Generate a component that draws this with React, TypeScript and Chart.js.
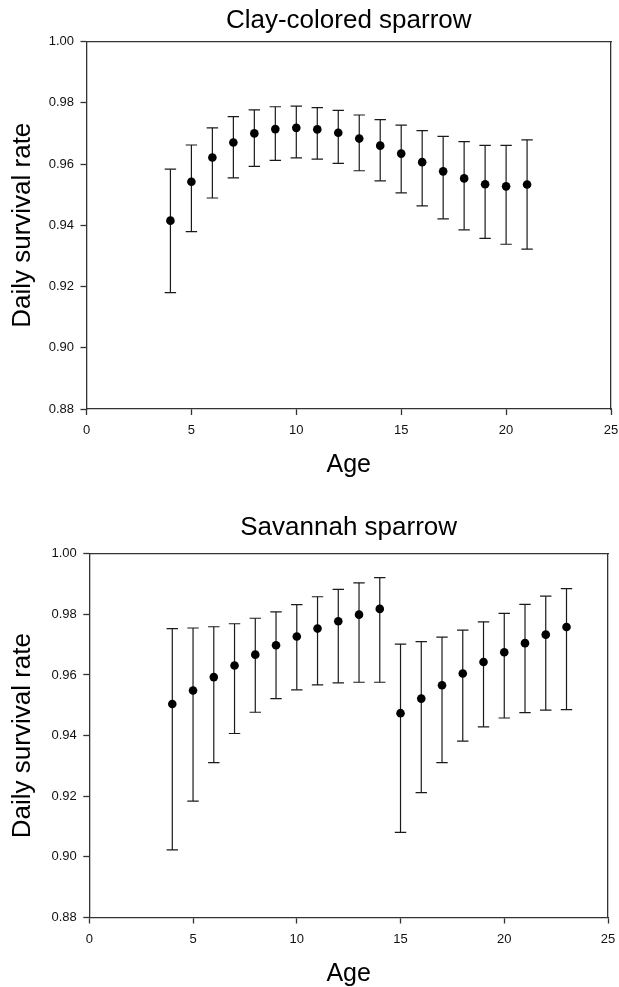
import React, { useEffect, useRef } from "react";
import { Chart, registerables } from "chart.js";

Chart.register(...registerables);

// ---- Clay-colored sparrow ----
const claySpecies = "Clay-colored sparrow";
const clayAges = [4, 5, 6, 7, 8, 9, 10, 11, 12, 13, 14, 15, 16, 17, 18, 19, 20, 21];
const clayMean = [0.9415, 0.9542, 0.9621, 0.967, 0.97, 0.9714, 0.9718, 0.9713, 0.9702, 0.9683, 0.966, 0.9634, 0.9606, 0.9576, 0.9553, 0.9534, 0.9527, 0.9533];
const clayUpper = [0.9583, 0.9662, 0.9718, 0.9755, 0.9777, 0.9787, 0.9789, 0.9784, 0.9775, 0.976, 0.9745, 0.9727, 0.9709, 0.969, 0.9673, 0.9661, 0.9661, 0.9679];
const clayLower = [0.918, 0.9379, 0.9489, 0.9555, 0.9592, 0.9612, 0.962, 0.9616, 0.9602, 0.9578, 0.9545, 0.9506, 0.9463, 0.9421, 0.9385, 0.9357, 0.9338, 0.9322];

// ---- Savannah sparrow ----
const savSpecies = "Savannah sparrow";
const savAges = [4, 5, 6, 7, 8, 9, 10, 11, 12, 13, 14, 15, 16, 17, 18, 19, 20, 21, 22, 23];
const savMean = [0.9504, 0.9549, 0.9593, 0.9631, 0.9667, 0.9698, 0.9727, 0.9753, 0.9777, 0.9799, 0.9818, 0.9474, 0.9522, 0.9566, 0.9605, 0.9643, 0.9675, 0.9705, 0.9733, 0.9758];
const savUpper = [0.9753, 0.9755, 0.9759, 0.9769, 0.9787, 0.9808, 0.9832, 0.9858, 0.9882, 0.9904, 0.9921, 0.9702, 0.971, 0.9725, 0.9748, 0.9775, 0.9803, 0.9833, 0.986, 0.9885];
const savLower = [0.9023, 0.9184, 0.9311, 0.9407, 0.9477, 0.9522, 0.9551, 0.9567, 0.9574, 0.9576, 0.9576, 0.9081, 0.9212, 0.9311, 0.9382, 0.9429, 0.9458, 0.9476, 0.9484, 0.9486];

// ---- axes ----
const xMin = 0;
const xMax = 25;
const xStep = 5;
const yMin = 0.88;
const yMax = 1.0;
const yStep = 0.02;
const xTitle = "Age";
const yTitle = "Daily survival rate";

const FONT = "'Liberation Sans', Arial, Helvetica, sans-serif";
const AXIS = "#333333";
const BAR = "#1a1a1a";

type Frame = {
  width: number;
  height: number;
  left: number;
  right: number;
  top: number;
  bottom: number;
  titlePadTop: number;
  agePadBottom: number;
};

function buildConfig(
  species: string,
  ages: number[],
  mean: number[],
  lower: number[],
  upper: number[],
  f: Frame
): any {
  const datasets: any[] = [
    {
      label: "mean",
      data: ages.map((a, i) => ({ x: a, y: mean[i] })),
      showLine: false,
      pointStyle: "circle",
      pointRadius: 4.3,
      pointBackgroundColor: "#000",
      pointBorderColor: "#000",
      pointBorderWidth: 0,
    },
    ...ages.map((a, i) => ({
      label: "ci" + a,
      data: [
        { x: a, y: lower[i] },
        { x: a, y: upper[i] },
      ],
      showLine: true,
      borderColor: BAR,
      borderWidth: 1.2,
      pointStyle: "line",
      pointRadius: 5.7,
      pointBorderColor: BAR,
      pointBackgroundColor: BAR,
      pointBorderWidth: 1.2,
    })),
  ];

  const tickFont = { family: FONT, size: 13 };

  return {
    type: "scatter",
    data: { datasets },
    options: {
      animation: false,
      responsive: false,
      events: [],
      layout: { padding: { left: 0, top: 0, bottom: 0, right: f.width - f.right } },
      plugins: {
        legend: { display: false },
        title: { display: false },
        tooltip: { enabled: false },
      },
      scales: {
        x: {
          type: "linear",
          position: "bottom",
          min: xMin,
          max: xMax,
          ticks: { stepSize: xStep, font: tickFont, color: "#111", padding: 8, maxRotation: 0 },
          grid: { display: true, drawOnChartArea: false, drawTicks: true, tickLength: 6, tickColor: AXIS, tickWidth: 1.3 },
          border: { display: true, color: AXIS, width: 1.3 },
          title: {
            display: true,
            text: xTitle,
            color: "#000",
            font: { family: FONT, size: 25, lineHeight: 1 },
            padding: { top: 0, bottom: f.agePadBottom },
          },
          afterFit: (s: any) => {
            s.height = f.height - f.bottom;
            s.paddingLeft = 0;
            s.paddingRight = 0;
          },
        },
        x2: {
          type: "linear",
          position: "top",
          min: xMin,
          max: xMax,
          ticks: { display: false },
          grid: { display: false },
          border: { display: true, color: AXIS, width: 1.3 },
          title: {
            display: true,
            text: species,
            color: "#000",
            font: { family: FONT, size: 26, lineHeight: 1.2 },
            padding: { top: f.titlePadTop, bottom: 0 },
          },
          afterFit: (s: any) => {
            s.height = f.top;
            s.paddingLeft = 0;
            s.paddingRight = 0;
          },
        },
        y: {
          type: "linear",
          position: "left",
          min: yMin,
          max: yMax,
          ticks: {
            stepSize: yStep,
            font: tickFont,
            color: "#111",
            padding: 6.5,
            callback: (v: any) => Number(v).toFixed(2),
          },
          grid: { display: true, drawOnChartArea: false, drawTicks: true, tickLength: 6, tickColor: AXIS, tickWidth: 1.3 },
          border: { display: true, color: AXIS, width: 1.3 },
          title: {
            display: true,
            text: yTitle,
            color: "#000",
            font: { family: FONT, size: 26, lineHeight: 1.2 },
            padding: { top: 7, bottom: 0 },
          },
          afterFit: (s: any) => {
            s.width = f.left;
            s.paddingTop = 0;
            s.paddingBottom = 0;
          },
        },
        y2: {
          type: "linear",
          position: "right",
          min: yMin,
          max: yMax,
          ticks: { display: false },
          grid: { display: false },
          border: { display: true, color: AXIS, width: 1.3 },
          afterFit: (s: any) => {
            s.width = 0;
            s.paddingTop = 0;
            s.paddingBottom = 0;
          },
        },
      },
    },
  };
}

const frame1: Frame = {
  width: 619,
  height: 495,
  left: 86.5,
  right: 611,
  top: 41.5,
  bottom: 409,
  titlePadTop: 5.3,
  agePadBottom: 17.2,
};

const frame2: Frame = {
  width: 619,
  height: 492,
  left: 89.3,
  right: 608,
  top: 58.7,
  bottom: 422.5,
  titlePadTop: 17.6,
  agePadBottom: 0.5,
};

function Panel(props: {
  species: string;
  ages: number[];
  mean: number[];
  lower: number[];
  upper: number[];
  frame: Frame;
  offsetTop: number;
}) {
  const ref = useRef<HTMLCanvasElement | null>(null);
  useEffect(() => {
    if (!ref.current) return;
    const chart = new Chart(
      ref.current,
      buildConfig(props.species, props.ages, props.mean, props.lower, props.upper, props.frame)
    );
    return () => chart.destroy();
  }, []);
  const f = props.frame;
  return (
    <canvas
      ref={ref}
      width={f.width}
      height={f.height}
      style={{
        position: "absolute",
        left: 0,
        top: props.offsetTop,
        width: f.width,
        height: f.height,
        display: "block",
      }}
    />
  );
}

export default function App() {
  return (
    <div
      style={{
        position: "absolute",
        left: 0,
        top: 0,
        width: 619,
        height: 987,
        overflow: "hidden",
        background: "#fff",
      }}
    >
      <Panel
        species={claySpecies}
        ages={clayAges}
        mean={clayMean}
        lower={clayLower}
        upper={clayUpper}
        frame={frame1}
        offsetTop={0}
      />
      <Panel
        species={savSpecies}
        ages={savAges}
        mean={savMean}
        lower={savLower}
        upper={savUpper}
        frame={frame2}
        offsetTop={495}
      />
    </div>
  );
}
